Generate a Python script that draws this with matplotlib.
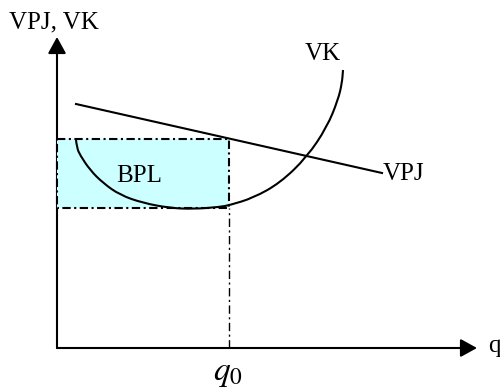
import matplotlib
matplotlib.use("Agg")
import matplotlib.pyplot as plt
from matplotlib.path import Path
from matplotlib.patches import PathPatch

plt.rcParams['font.family'] = ['Liberation Serif', 'DejaVu Serif']
plt.rcParams['mathtext.fontset'] = 'stix'
plt.rcParams['lines.scale_dashes'] = False

# Daten (in Diagrammeinheiten, Ursprung = Achsenursprung)
vpj_x = [19, 325]
vpj_y = [244, 175]

vk_x = [19, 20, 23, 33, 46, 63, 86, 113, 136, 163, 173, 196, 223, 250, 270, 281, 285, 286]
vk_y = [208, 200, 193, 178, 165, 153, 145, 140, 139, 141, 143, 150, 165, 191, 221, 248, 265, 278]

q0 = 172
bpl_low, bpl_high = 140, 209
x_max, y_max = 420, 311

fig = plt.figure(figsize=(5.0, 3.89), dpi=100)
ax = fig.add_axes([0, 0, 1, 1])
ax.set_xlim(-57, 443)
ax.set_ylim(-41, 348)
ax.axis('off')

# Achsen mit Pfeilen
arrow = dict(arrowstyle='-|>,head_length=1.0,head_width=0.55', color='black',
             lw=1.5, mutation_scale=10, shrinkA=0, shrinkB=0)
ax.annotate('', xy=(0, y_max), xytext=(0, 0), arrowprops=arrow, zorder=1)
ax.annotate('', xy=(x_max, 0), xytext=(0, 0), arrowprops=arrow, zorder=1)

# Fläche BPL
ax.fill_between([0, q0], bpl_low, bpl_high, color='#ccffff', lw=0, zorder=2)
dashdot = (0, (6, 2.5, 1.5, 2.5))
ax.plot([0, q0, q0, 0, 0], [bpl_high, bpl_high, bpl_low, bpl_low, bpl_high],
        color='black', lw=1.5, linestyle=dashdot, zorder=3)
ax.plot([q0, q0], [0, bpl_low], color='black', lw=1.0, linestyle=dashdot, zorder=3)

# Kurven
ax.plot(vpj_x, vpj_y, color='black', lw=1.5, zorder=4)

pts = list(zip(vk_x, vk_y))
verts = [pts[0]]
codes = [Path.MOVETO]
for i in range(1, len(pts) - 1):
    mid = ((pts[i][0] + pts[i + 1][0]) / 2, (pts[i][1] + pts[i + 1][1]) / 2)
    verts += [pts[i], mid]
    codes += [Path.CURVE3, Path.CURVE3]
verts.append(pts[-1])
codes.append(Path.LINETO)
ax.add_patch(PathPatch(Path(verts, codes), fill=False, lw=1.5, color='black', zorder=4))

fs = 18
ax.text(-48, 320, 'VPJ, VK', fontsize=fs, va='baseline', ha='left')
ax.text(248, 288, 'VK', fontsize=fs, va='baseline', ha='left')
ax.text(326, 168, 'VPJ', fontsize=fs, va='baseline', ha='left')
ax.text(82, 166, 'BPL', fontsize=fs, va='baseline', ha='center')
ax.text(431, -4, 'q', fontsize=fs, va='baseline', ha='left')
ax.text(q0 - 1, -32, '$q_0$', fontsize=24, va='baseline', ha='center')

fig.savefig('out.png', dpi=100)
